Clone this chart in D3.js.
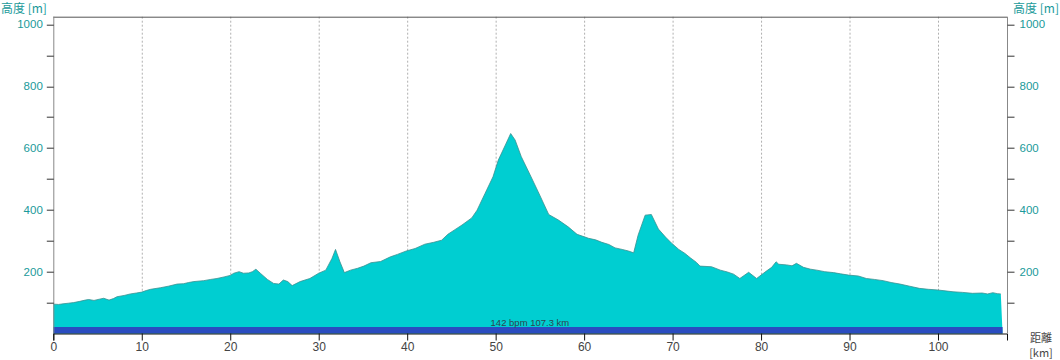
<!DOCTYPE html>
<html>
<head>
<meta charset="utf-8">
<script src="https://cdn.jsdelivr.net/npm/d3@7"></script>
<style>
    html, body { margin: 0; padding: 0; background: #fff; }
    #chart { width: 1060px; height: 360px; }
    text { font-family: "Liberation Sans", Arial, sans-serif; }
    .cjk { font-family: "Noto Sans CJK JP", sans-serif; }
</style>
</head>
<body>
<div id="chart"></div>
<script>
// elevation profile (distance in km, elevation in m)

const distanceKm = [
    0, 0.6, 1.1, 1.7, 2.3, 3.0, 3.6, 4.0, 4.6, 5.2, 5.7, 6.3, 6.8, 7.2, 8.0, 8.7, 9.4, 10.0,
    10.5, 11.0, 12.1, 13.0, 14.0, 14.7, 15.3, 15.9, 17.0, 17.8, 18.5, 19.3, 20.0, 20.4, 21.0,
    21.5, 22.1, 22.5, 22.9, 23.4, 24.2, 24.9, 25.5, 26.0, 26.5, 27.0, 27.9, 29.0, 30.0, 30.8,
    31.5, 31.9, 32.4, 32.9, 33.6, 34.4, 35.1, 35.9, 37.0, 38.1, 38.9, 39.9, 40.9, 42.0, 43.0,
    43.9, 44.6, 45.4, 46.2, 47.3, 47.9, 48.8, 49.7, 50.3, 51.1, 51.7, 52.2, 52.9, 53.9, 54.8,
    56.0, 57.1, 58.2, 59.2, 60.5, 61.3, 62.0, 62.8, 63.5, 64.3, 65.0, 65.6, 66.1, 66.9, 67.6,
    68.4, 69.2, 69.9, 70.7, 71.4, 72.0, 72.7, 73.1, 74.4, 75.4, 76.2, 76.9, 77.6, 78.6, 79.5,
    80.6, 81.2, 81.7, 82.0, 82.9, 83.5, 84.0, 84.8, 85.6, 86.3, 87.2, 88.2, 89.0, 89.9, 91.0,
    91.9, 92.8, 93.8, 94.7, 95.7, 96.8, 97.9, 98.9, 99.9, 100.8, 101.7, 102.8, 103.9, 105.0,
    105.6, 106.2, 106.7, 107.1, 107.3
];

const elevationM = [
    95, 94, 96, 98, 100, 104, 108, 110, 107, 111, 114, 108, 113, 119, 123, 128, 131, 134,
    139, 143, 148, 153, 160, 161, 165, 168, 171, 175, 178, 183, 188, 195, 200,
    195, 196, 200, 208, 195, 175, 162, 160, 173, 168, 155, 168, 178, 195, 205,
    243, 272, 232, 197, 205, 211, 218, 229, 233, 248, 256, 267, 275, 289, 295,
    302, 321, 336, 351, 374, 399, 453, 507, 561, 610, 647, 626, 572, 513, 459,
    385, 367, 345, 321, 308, 303, 295, 288, 277, 272, 267, 261, 318, 383, 385,
    338, 312, 292, 272, 259, 245, 230, 218, 216, 205, 199, 192, 178, 198, 178,
    202, 214, 232, 224, 222, 219, 227, 214, 208, 205, 200, 197, 193, 189, 186,
    178, 175, 171, 165, 160, 153, 146, 143, 141, 138, 135, 133, 130, 131,
    128, 132, 129, 128, 0
];

const xTicks = [0, 10, 20, 30, 40, 50, 60, 70, 80, 90, 100];
const gridTicks = [10, 20, 30, 40, 50, 60, 70, 80, 90, 100];
const yTicks = [100, 200, 300, 400, 500, 600, 700, 800, 900, 1000];
const yLabelTicks = [200, 400, 600, 800, 1000];

const summaryLabel = '142 bpm 107.3 km';
const yTitle = '高度 [m]';
const xTitle = ['距離', '[km]'];

const TEAL = '#1a9a9a';

/**
 * Builds the elevation profile chart.
 */
function createProfile() {
    const svg = d3.select('#chart').append('svg')
        .attr('width', 1060)
        .attr('height', 360);

    const margin = {top: 16.7, right: 53, bottom: 26.5, left: 53.3};
    const width = 1060 - margin.left - margin.right;
    const height = 360 - margin.top - margin.bottom;

    const g = svg.append('g')
        .attr('transform', `translate(${margin.left},${margin.top})`);

    const x = d3.scaleLinear().domain([0, 107.8]).range([0, width]);
    const y = d3.scaleLinear().domain([0, 1025]).range([height, 0]);

    const data = distanceKm.map((d, i) => ({km: d, m: elevationM[i]}));

    // dotted vertical grid
    g.append('g')
        .selectAll('line')
        .data(gridTicks)
        .enter().append('line')
        .attr('x1', d => x(d) + 0.5)
        .attr('x2', d => x(d) + 0.5)
        .attr('y1', 0)
        .attr('y2', height)
        .attr('stroke', '#b0b0b0')
        .attr('stroke-dasharray', '2,2');

    addArea(g, x, y, data, height);
    addAxes(g, x, y, width, height);
    addTitles(svg);
}

/**
 * Draws the filled profile and the blue band along the bottom.
 */
function addArea(g, x, y, data, height) {
    const area = d3.area()
        .x(d => x(d.km))
        .y0(height)
        .y1(d => y(d.m));

    const line = d3.line()
        .x(d => x(d.km))
        .y(d => y(d.m));

    g.append('path')
        .datum(data)
        .attr('d', area)
        .attr('fill', '#00ced1');

    g.append('path')
        .datum(data.slice(0, -1))
        .attr('d', line)
        .attr('fill', 'none')
        .attr('stroke', '#3a9090')
        .attr('stroke-width', 0.8);

    const last = distanceKm[distanceKm.length - 1];
    g.append('rect')
        .attr('x', x(0))
        .attr('y', height - 6.5)
        .attr('width', x(last) - x(0))
        .attr('height', 6.5)
        .attr('fill', '#2a4cc0');

    g.append('text')
        .attr('x', x(last / 2) + 2)
        .attr('y', height - 7.5)
        .attr('text-anchor', 'middle')
        .attr('font-size', 9.5)
        .attr('fill', '#2e4450')
        .text(summaryLabel);
}

/**
 * Left, right and bottom axes plus the frame line.
 */
function addAxes(g, x, y, width, height) {
    // frame
    g.append('line')
        .attr('x1', 0).attr('x2', width)
        .attr('y1', 0.5).attr('y2', 0.5)
        .attr('stroke', '#555');

    [0, width].forEach((px, side) => {
        const ax = g.append('g').attr('transform', `translate(${px + 0.5},0)`);
        ax.append('line')
            .attr('y1', 0).attr('y2', height)
            .attr('stroke', '#888');
        ax.selectAll('.tick')
            .data(yTicks)
            .enter().append('line')
            .attr('x1', 0)
            .attr('x2', side === 0 ? -7 : 7)
            .attr('y1', d => Math.round(y(d)) + 0.5)
            .attr('y2', d => Math.round(y(d)) + 0.5)
            .attr('stroke', '#333');
        ax.selectAll('.label')
            .data(yLabelTicks)
            .enter().append('text')
            .attr('x', side === 0 ? -11 : 12)
            .attr('y', d => y(d) + 4)
            .attr('text-anchor', side === 0 ? 'end' : 'start')
            .attr('font-size', 11.5)
            .attr('fill', TEAL)
            .text(d => d);
    });

    const xAxis = g.append('g')
        .attr('transform', `translate(0,${height})`)
        .call(d3.axisBottom(x).tickValues(xTicks).tickSize(7).tickSizeOuter(7).tickFormat(d => d));
    xAxis.select('.domain').attr('stroke', '#111');
    xAxis.selectAll('.tick line').attr('stroke', '#111');
    xAxis.selectAll('text')
        .attr('font-size', 12)
        .attr('font-family', '"Liberation Sans", Arial, sans-serif')
        .attr('fill', '#444')
        .attr('dy', '0.6em');
}

/**
 * Axis titles.
 */
function addTitles(svg) {
    svg.append('text')
        .attr('class', 'cjk')
        .attr('x', 1)
        .attr('y', 13)
        .attr('font-size', 12)
        .attr('fill', TEAL)
        .text(yTitle);

    svg.append('text')
        .attr('class', 'cjk')
        .attr('x', 1059)
        .attr('y', 13)
        .attr('text-anchor', 'end')
        .attr('font-size', 12)
        .attr('fill', TEAL)
        .text(yTitle);

    xTitle.forEach((t, i) => {
        svg.append('text')
            .attr('class', 'cjk')
            .attr('x', 1041)
            .attr('y', 342 + i * 15)
            .attr('text-anchor', 'middle')
            .attr('font-size', 11)
            .attr('fill', '#444')
            .text(t);
    });
}

createProfile();
</script>
</body>
</html>
